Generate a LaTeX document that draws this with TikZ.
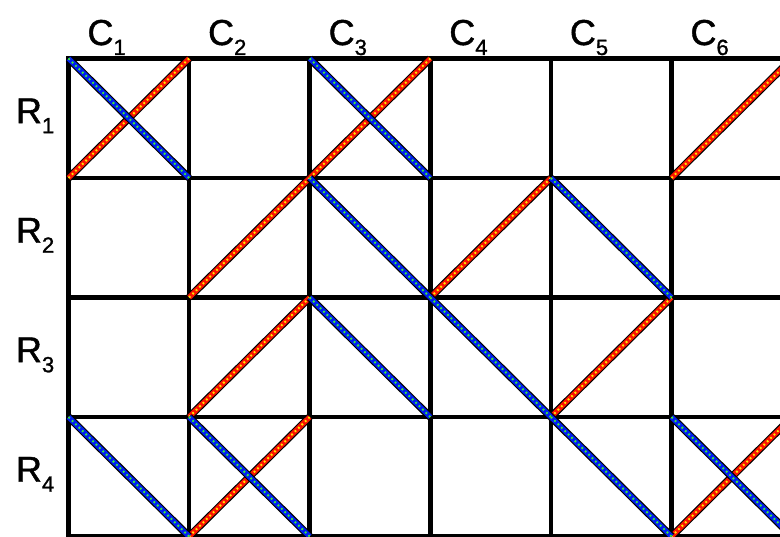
\documentclass[tikz,border=0pt]{standalone}
\usepackage{fontspec}
\setmainfont{Liberation Sans}
\newfontfamily\labfont[FakeBold=1.2]{Liberation Sans}
\definecolor{lnred}{RGB}{250,20,0}
\definecolor{lnyel}{RGB}{255,225,0}
\definecolor{lnblue}{RGB}{0,30,240}
\definecolor{lngreen}{RGB}{60,230,60}
\newcommand\lbl[2]{\labfont\fontsize{36}{40}\selectfont #1\raisebox{-10pt}{\fontsize{22}{22}\selectfont #2}}
\tikzset{
  cell/.style={draw=black, line width=4.5pt, rectangle, inner sep=0pt, outer sep=0pt,
    minimum width=120.6pt, minimum height=119.5pt},
  reddiag/.style={draw=black, line width=7.5pt,
    postaction={draw=lnred, line width=5.2pt},
    postaction={draw=lnyel, line width=2pt, dash pattern=on 1.8pt off 3pt}},
  bluediag/.style={draw=black, line width=7.5pt,
    postaction={draw=lnblue, line width=5.2pt},
    postaction={draw=lngreen, line width=2pt, dash pattern=on 1.8pt off 3pt}},
  lab/.style={anchor=base west, inner sep=0pt, outer sep=0pt}
}
\begin{document}
\begin{tikzpicture}[x=1pt,y=-1pt]
\useasboundingbox (0,0) rectangle (780,537);
\clip (0,0) rectangle (780,537);
\fill[white] (0,0) rectangle (780,537);
% cells
\foreach \r in {1,...,4}{
  \foreach \c in {1,...,6}{
    \node[cell] (c\r\c) at ({68.5+120.6*(\c-0.5)},{58.5+119.5*(\r-0.5)}) {};
  }
}
% column labels
\foreach \c in {1,...,6}{
  \node[lab] (col\c) at ({68.5+120.6*(\c-1)+19},45) {\lbl{C}{\c}};
}
% row labels
\foreach \r in {1,...,4}{
  \node[lab] (row\r) at (16,{58.5+119.5*(\r-0.5)+5}) {\lbl{R}{\r}};
}
% red "/" diagonals
\foreach \n in {c11,c13,c16,c22,c24,c32,c35,c42,c46}{
  \draw[reddiag] (\n.south west) -- (\n.north east);
}
% blue "\" diagonals
\foreach \n in {c11,c13,c23,c25,c33,c34,c41,c42,c45,c46}{
  \draw[bluediag] (\n.north west) -- (\n.south east);
}
\end{tikzpicture}
\end{document}
